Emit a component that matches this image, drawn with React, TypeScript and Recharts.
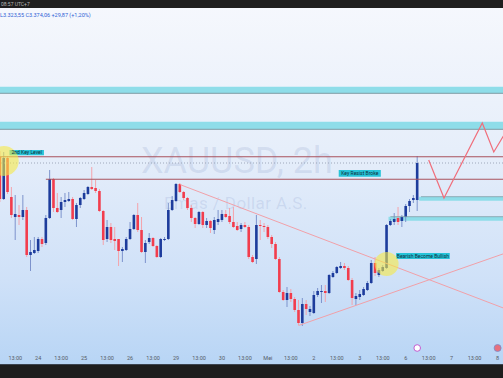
import React from 'react';
import { ComposedChart, Bar, Line, XAxis, YAxis, ReferenceArea, ReferenceLine, ReferenceDot } from 'recharts';

// XAUUSD 2h candles (price values)
const opens = [3380,3338,3379,3340,3320,3322,3320,3327,3282,3284,3286,3298,3294,3319,3358,3329,3327,3335,3336,3338,3318,3332,3338,3343,3350,3349,3346,3326,3298,3310,3298,3298,3286,3287,3298,3308,3322,3307,3285,3295,3299,3291,3280,3297,3298,3327,3336,3353,3345,3339,3329,3319,3313,3325,3312,3316,3307,3315,3317,3323,3321,3315,3311,3308,3312,3310,3280,3278,3312,3311,3310,3300,3293,3278,3245,3237,3244,3238,3227,3214,3233,3225,3224,3242,3245,3246,3244,3260,3264,3269,3271,3269,3257,3238,3240,3242,3247,3254,3274,3262,3266,3269,3312,3315,3319,3316,3320,3331,3337,3337];
const highs = [3386,3385,3381,3350,3342,3332,3342,3330,3297,3300,3300,3300,3322,3367,3359,3344,3340,3344,3345,3340,3334,3340,3347,3351,3370,3357,3348,3327,3317,3314,3310,3298,3290,3300,3315,3323,3334,3320,3297,3304,3300,3292,3299,3300,3334,3341,3354,3354,3346,3340,3332,3320,3326,3326,3319,3317,3320,3327,3327,3327,3329,3330,3315,3314,3315,3312,3282,3322,3317,3314,3312,3302,3295,3280,3247,3250,3248,3240,3237,3239,3237,3231,3246,3249,3252,3252,3263,3266,3271,3275,3274,3271,3259,3244,3247,3250,3256,3277,3280,3269,3272,3313,3318,3324,3330,3322,3333,3338,3342,3381];
const lows = [3335,3337,3343,3319,3297,3312,3317,3280,3266,3283,3284,3290,3292,3318,3325,3324,3319,3330,3335,3317,3310,3329,3337,3342,3347,3344,3325,3292,3295,3294,3287,3271,3275,3286,3297,3307,3305,3284,3274,3293,3290,3279,3279,3296,3297,3326,3335,3344,3337,3327,3315,3309,3312,3309,3309,3304,3303,3312,3315,3319,3313,3309,3306,3305,3309,3278,3274,3273,3297,3305,3298,3289,3277,3244,3236,3230,3235,3225,3212,3211,3222,3221,3223,3240,3234,3235,3243,3259,3263,3268,3267,3256,3232,3232,3237,3241,3246,3253,3261,3260,3265,3268,3311,3312,3312,3310,3315,3325,3334,3326];
const closes = [3338,3379,3345,3322,3323,3320,3327,3282,3285,3287,3298,3293,3319,3358,3329,3325,3335,3337,3338,3318,3332,3339,3344,3350,3348,3346,3326,3297,3310,3297,3296,3286,3288,3298,3308,3322,3307,3285,3294,3299,3291,3280,3298,3298,3327,3337,3353,3345,3339,3329,3319,3313,3325,3312,3316,3309,3317,3318,3323,3320,3315,3310,3307,3312,3310,3280,3275,3312,3311,3310,3300,3293,3278,3245,3237,3244,3238,3227,3214,3233,3228,3228,3242,3246,3246,3244,3262,3264,3270,3271,3269,3257,3239,3241,3243,3248,3254,3274,3264,3267,3270,3312,3316,3318,3315,3320,3331,3336,3339,3374];

const SLOTS = 134; // candles + empty future space on the right
const tickLabels = ['13:00','24','13:00','25','13:00','26','13:00','29','13:00','30','13:00','Mei','13:00','2','13:00','3','13:00','6','13:00','7','13:00','8'];
const tickIdx = tickLabels.map((_, k) => 4 + 6 * k);

// drawings (index, price)
const descTrend = [{ i: 47, v: 3352.5 }, { i: 133, v: 3226.8 }];
const ascTrend = [{ i: 78, v: 3211.5 }, { i: 133, v: 3285.2 }];
const projection = [{ i: 112, v: 3377 }, { i: 116, v: 3339 }, { i: 126, v: 3414 }, { i: 129, v: 3385 }, { i: 133, v: 3410.5 }];

const data = Array.from({ length: SLOTS }, (_, i) => {
  const row: any = { i };
  if (i < opens.length) {
    row.open = opens[i]; row.high = highs[i]; row.low = lows[i]; row.close = closes[i];
    row.range = [lows[i], highs[i]];
  }
  const d = descTrend.find(p => p.i === i); if (d) row.desc = d.v;
  const a = ascTrend.find(p => p.i === i); if (a) row.asc = a.v;
  const p = projection.find(q => q.i === i); if (p) row.proj = p.v;
  return row;
});

const BLUE = '#1d3c9c';
const RED = '#f23d4d';

const Candle = (props: any) => {
  const { x, y, width, height, payload } = props;
  if (!payload || payload.open == null) return null;
  const { open, close, high, low } = payload;
  const top = height < 0 ? y + height : y;
  const h = Math.abs(height);
  const ratio = high === low ? 0 : h / (high - low);
  const yo = top + (high - open) * ratio;
  const yc = top + (high - close) * ratio;
  const up = close >= open;
  const cx = x + width / 2;
  const bt = Math.min(yo, yc);
  const bh = Math.max(1, Math.abs(yo - yc));
  return (
    <g>
      <line x1={cx} x2={cx} y1={top} y2={top + h} stroke={up ? '#7d93cc' : '#f4a3ab'} strokeWidth={1} />
      <rect x={cx - 1.3} y={bt} width={2.6} height={bh} fill={up ? BLUE : RED} />
    </g>
  );
};

const labelStyle = { fontSize: 5, fill: '#0f2f3d', fontFamily: 'Roboto' };

export default function App() {
  return (
    <div style={{ position: 'absolute', left: 0, top: 0, width: 503, height: 378, overflow: 'hidden', fontFamily: 'Roboto', background: 'linear-gradient(to bottom, #f6f8fd 0px, #e6eefa 150px, #cfe1f8 280px, #b8d5f5 364px)' }}>
      <div style={{ position: 'absolute', left: 141, top: 141, fontSize: 36, color: 'rgba(110,130,185,0.17)', whiteSpace: 'nowrap', lineHeight: '40px' }}>XAUUSD, 2h</div>
      <div style={{ position: 'absolute', left: 164, top: 193, fontSize: 17, color: 'rgba(110,130,185,0.17)', whiteSpace: 'nowrap', lineHeight: '20px', letterSpacing: 0.4 }}>Emas / Dollar A.S.</div>
      <div style={{ position: 'absolute', left: -2.2, top: 0 }}>
        <ComposedChart width={513} height={364} data={data} margin={{ top: 0, right: 0, bottom: 0, left: 0 }} barCategoryGap="10%">
          <XAxis dataKey="i" type="category" ticks={tickIdx} interval={0} height={12} axisLine={false} tickLine={false} tickSize={0} tickMargin={4}
            tick={{ fontSize: 5.5, fill: '#555b66', fontFamily: 'Roboto' }}
            tickFormatter={(v: any) => { const k = tickIdx.indexOf(Number(v)); return k >= 0 ? tickLabels[k] : ''; }} />
          <YAxis hide domain={[3185, 3537]} allowDataOverflow type="number" />
          <ReferenceArea y1={3443.7} y2={3450.3} fill="#8edde9" fillOpacity={1} stroke="none" ifOverflow="visible" />
          <ReferenceLine y={3443.7} stroke="#7f9ca4" strokeWidth={1} />
          <ReferenceArea y1={3407.7} y2={3415.3} fill="#8edde9" fillOpacity={1} stroke="none" ifOverflow="visible" />
          <ReferenceLine y={3407.7} stroke="#7f9ca4" strokeWidth={1} />
          <ReferenceArea x1={110} x2={133} y1={3336.3} y2={3340.3} fill="#8edde9" fillOpacity={1} stroke="none" />
          <ReferenceLine segment={[{ x: 110, y: 3340.3 }, { x: 133, y: 3340.3 }]} stroke="#7f9ca4" strokeWidth={0.8} />
          <ReferenceArea x1={102} x2={133} y1={3316.3} y2={3320.3} fill="#8edde9" fillOpacity={1} stroke="none" />
          <ReferenceLine segment={[{ x: 102, y: 3320.3 }, { x: 133, y: 3320.3 }]} stroke="#7f9ca4" strokeWidth={0.8} />
          <ReferenceLine y={3380.3} stroke="#a9525d" strokeWidth={1.1} />
          <ReferenceLine segment={[{ x: 12, y: 3357.7 }, { x: 133, y: 3357.7 }]} stroke="#a9525d" strokeWidth={1.1} />
          <ReferenceLine y={3374} stroke="#8d98ab" strokeWidth={0.8} strokeDasharray="1 2" />
          <Line dataKey="desc" type="linear" connectNulls dot={false} stroke="#f1a0a8" strokeWidth={1} isAnimationActive={false} />
          <Line dataKey="asc" type="linear" connectNulls dot={false} stroke="#f1a0a8" strokeWidth={1} isAnimationActive={false} />
          <Bar dataKey="range" shape={Candle} isAnimationActive={false} />
          <Line dataKey="proj" type="linear" connectNulls dot={false} stroke="#f06e7b" strokeWidth={1.2} isAnimationActive={false} />
          <ReferenceDot x={1} y={3376} r={15} fill="#f7ea45" fillOpacity={0.6} stroke="none" ifOverflow="visible" />
          <ReferenceDot x={101} y={3273} r={12} fill="#f7ea45" fillOpacity={0.6} stroke="none" />
          <ReferenceArea x1={3} x2={11} y1={3381.7} y2={3387} fill="#27c4d8" fillOpacity={1} stroke="none" ifOverflow="visible"
            label={{ value: '2nd Key Level', position: 'center', ...labelStyle }} />
          <ReferenceArea x1={89} x2={99} y1={3360.3} y2={3367} fill="#27c4d8" fillOpacity={1} stroke="none"
            label={{ value: 'Key Resist Broke', position: 'center', ...labelStyle }} />
          <ReferenceArea x1={104} x2={117} y1={3278} y2={3284} fill="#27c4d8" fillOpacity={1} stroke="none"
            label={{ value: 'Bearish Become Bullish', position: 'center', ...labelStyle }} />
          <ReferenceDot x={109} y={3189} r={3.3} fill="#ffffff" stroke="#c35bd0" strokeWidth={1} />
          <ReferenceDot x={130} y={3189} r={3.5} fill="#e7707e" stroke="#7a8cc8" strokeWidth={0.8} />
        </ComposedChart>
      </div>
      <div style={{ position: 'absolute', left: 0, top: 0, width: 503, height: 8, background: '#1f1f1f' }}>
        <div style={{ position: 'absolute', left: 1, top: 1, fontSize: 5, color: '#b8b8b8', whiteSpace: 'nowrap', lineHeight: '6px' }}>08:57 UTC+7</div>
      </div>
      <div style={{ position: 'absolute', left: 0, top: 12, fontSize: 5.5, color: '#2f62d6', whiteSpace: 'nowrap', lineHeight: '6px' }}>L3.323,55 C3.374,06 +29,87 (+1,20%)</div>
      <div style={{ position: 'absolute', left: 0, top: 364, width: 503, height: 14, background: '#1e1e1e', borderTop: '1px solid #3c4450', boxSizing: 'border-box' }} />
    </div>
  );
}
